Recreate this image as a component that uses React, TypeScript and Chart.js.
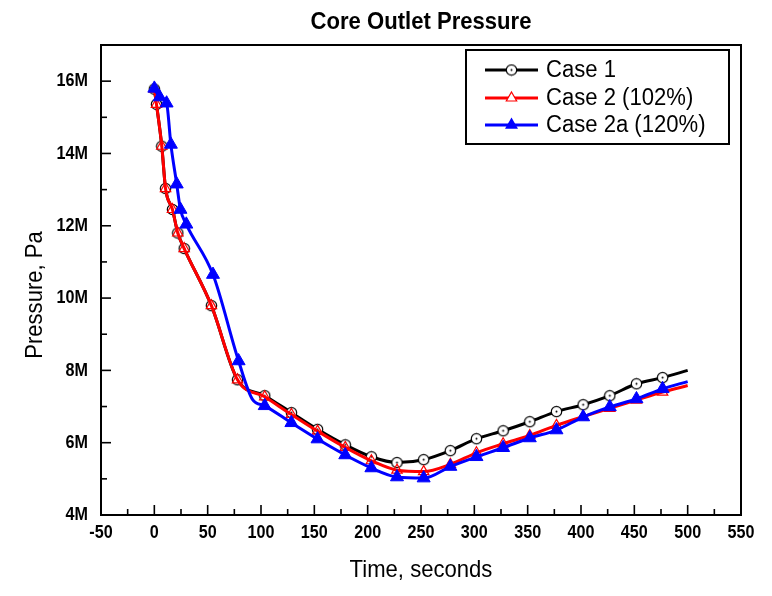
import { useEffect, useRef } from "react";
import { Chart, registerables } from "chart.js";

Chart.register(...registerables);

const chartTitle = "Core Outlet Pressure";
const xAxisTitle = "Time, seconds";
const yAxisTitle = "Pressure, Pa";

const xTicks = [-50, 0, 50, 100, 150, 200, 250, 300, 350, 400, 450, 500, 550];
const xMinorTicks = [-25, 25, 75, 125, 175, 225, 275, 325, 375, 425, 475, 525];
const yTicks = [4, 6, 8, 10, 12, 14, 16];
const yMinorTicks = [5, 7, 9, 11, 13, 15];

// Case 1 (black, open circle with dot)
const case1Label = "Case 1";
const case1Time = [0, 2, 7, 10.5, 17, 22, 28, 53.5, 78, 103.5, 128.5, 153, 179, 203.5, 227.5, 252.5, 277.5, 302, 327, 352, 377, 402, 427, 452, 476.5, 500];
const case1Pressure = [15.78, 15.36, 14.2, 13.03, 12.45, 11.8, 11.37, 9.79, 7.74, 7.3, 6.83, 6.37, 5.94, 5.61, 5.45, 5.53, 5.78, 6.11, 6.33, 6.58, 6.86, 7.05, 7.3, 7.63, 7.8, 8.0];
const case1Marker = [1, 1, 1, 1, 1, 1, 1, 1, 1, 1, 1, 1, 1, 1, 1, 1, 1, 1, 1, 1, 1, 1, 1, 1, 1, 0];

// Case 2 (red, open triangle)
const case2Label = "Case 2 (102%)";
const case2Time = [0, 2, 7, 10.5, 17, 22, 28, 53.5, 78, 103.5, 128.5, 153, 179, 203.5, 227.5, 252.5, 277.5, 302, 327, 352, 377, 402, 427, 452, 476.5, 500];
const case2Pressure = [15.78, 15.36, 14.2, 13.03, 12.45, 11.8, 11.37, 9.79, 7.74, 7.27, 6.78, 6.32, 5.87, 5.5, 5.24, 5.2, 5.4, 5.72, 5.97, 6.2, 6.48, 6.72, 6.95, 7.18, 7.4, 7.58];
const case2Marker = [1, 1, 1, 1, 1, 1, 1, 1, 1, 1, 1, 1, 1, 1, 1, 1, 1, 1, 1, 1, 1, 1, 1, 1, 1, 0];

// Case 2a (blue, filled triangle)
const case2aLabel = "Case 2a (120%)";
const case2aTime = [0, 5, 11.5, 15.5, 21, 24.5, 30, 55, 79, 92, 103.5, 128.5, 153, 179, 203.5, 227.5, 252.5, 277.5, 302, 327, 352, 377, 402, 427, 452, 476.5, 500];
const case2aPressure = [15.8, 15.56, 15.39, 14.25, 13.15, 12.45, 12.04, 10.65, 8.26, 7.2, 7.02, 6.55, 6.1, 5.66, 5.3, 5.05, 5.02, 5.34, 5.61, 5.86, 6.13, 6.35, 6.71, 6.99, 7.21, 7.49, 7.69];
const case2aMarker = [1, 1, 1, 1, 1, 1, 1, 1, 1, 0, 1, 1, 1, 1, 1, 1, 1, 1, 1, 1, 1, 1, 1, 1, 1, 1, 0];

const FONT = "'Liberation Sans', Arial, sans-serif";

function makeCircleDot(): HTMLCanvasElement {
  const c = document.createElement("canvas");
  c.width = 13;
  c.height = 13;
  const g = c.getContext("2d")!;
  g.beginPath();
  g.arc(6.5, 6.5, 5.2, 0, Math.PI * 2);
  g.fillStyle = "#fff";
  g.fill();
  g.lineWidth = 1.2;
  g.strokeStyle = "#000";
  g.stroke();
  g.beginPath();
  g.arc(6.5, 6.5, 1, 0, Math.PI * 2);
  g.fillStyle = "#000";
  g.fill();
  return c;
}

function condensedText(ctx: CanvasRenderingContext2D, text: string, x: number, y: number, sx: number, align: CanvasTextAlign) {
  ctx.save();
  ctx.translate(x, y);
  ctx.scale(sx, 1);
  ctx.textAlign = align;
  ctx.fillText(text, 0, 0);
  ctx.restore();
}

export default function App() {
  const ref = useRef<HTMLCanvasElement>(null);

  useEffect(() => {
    if (!ref.current) return;
    const circleDot = makeCircleDot();

    const series = [
      { label: case1Label, t: case1Time, p: case1Pressure, m: case1Marker, color: "#000000", style: circleDot as any, r: 5.5, bg: "#ffffff", bw: 1.2, order: 3 },
      { label: case2Label, t: case2Time, p: case2Pressure, m: case2Marker, color: "#ff0000", style: "triangle" as any, r: 6, bg: "rgba(255,255,255,0)", bw: 1.2, order: 2 },
      { label: case2aLabel, t: case2aTime, p: case2aPressure, m: case2aMarker, color: "#0000ff", style: "triangle" as any, r: 7.5, bg: "#0000ff", bw: 1, order: 1 },
    ];

    const decor = {
      id: "decor",
      beforeDatasetsDraw(chart: any) {
        const { ctx, chartArea: a, scales } = chart;
        const xs = scales.x;
        const ys = scales.y;
        ctx.save();
        ctx.strokeStyle = "#000";
        ctx.lineWidth = 1.6;
        const tick = (x1: number, y1: number, x2: number, y2: number) => {
          ctx.beginPath();
          ctx.moveTo(x1, y1);
          ctx.lineTo(x2, y2);
          ctx.stroke();
        };
        xTicks.forEach((v) => { const px = xs.getPixelForValue(v); tick(px, a.bottom, px, a.bottom - 10); });
        xMinorTicks.forEach((v) => { const px = xs.getPixelForValue(v); tick(px, a.bottom, px, a.bottom - 6); });
        yTicks.forEach((v) => { const py = ys.getPixelForValue(v); tick(a.left, py, a.left + 10, py); });
        yMinorTicks.forEach((v) => { const py = ys.getPixelForValue(v); tick(a.left, py, a.left + 6, py); });
        ctx.lineWidth = 2;
        ctx.strokeRect(a.left, a.top, a.right - a.left, a.bottom - a.top);

        // tick labels (condensed bold, as in the reference)
        ctx.fillStyle = "#000";
        ctx.font = `bold 19px ${FONT}`;
        ctx.textBaseline = "middle";
        xTicks.forEach((v) => condensedText(ctx, `${v}`, xs.getPixelForValue(v), a.bottom + 18, 0.85, "center"));
        yTicks.forEach((v) => condensedText(ctx, `${v}M`, a.left - 13, ys.getPixelForValue(v), 0.85, "right"));
        ctx.restore();
      },
      afterDraw(chart: any) {
        const { ctx, chartArea: a } = chart;
        ctx.save();
        ctx.fillStyle = "#000";
        ctx.textBaseline = "middle";
        // chart title
        ctx.font = `bold 24px ${FONT}`;
        condensedText(ctx, chartTitle, (a.left + a.right) / 2, 22, 0.92, "center");
        // axis titles
        ctx.font = `24px ${FONT}`;
        condensedText(ctx, xAxisTitle, (a.left + a.right) / 2, 570, 0.92, "center");
        ctx.save();
        ctx.translate(35, 295);
        ctx.rotate(-Math.PI / 2);
        condensedText(ctx, yAxisTitle, 0, 0, 0.92, "center");
        ctx.restore();

        // legend
        const bx = 466, by = 50, bw = 263, bh = 94;
        ctx.fillStyle = "#fff";
        ctx.fillRect(bx, by, bw, bh);
        ctx.strokeStyle = "#000";
        ctx.lineWidth = 2;
        ctx.strokeRect(bx, by, bw, bh);
        const rows = [70, 98, 125];
        series.forEach((s, i) => {
          const y = rows[i];
          ctx.strokeStyle = s.color;
          ctx.lineWidth = 3;
          ctx.beginPath();
          ctx.moveTo(485, y);
          ctx.lineTo(538, y);
          ctx.stroke();
          if (s.style === circleDot) {
            ctx.drawImage(circleDot, 511.5 - 6.5, y - 6.5);
          } else {
            const r = i === 1 ? 6 : 7.5;
            const h = r * 1.5;
            const w = r * Math.sqrt(3) / 2;
            ctx.beginPath();
            ctx.moveTo(511.5, y - r);
            ctx.lineTo(511.5 + w, y - r + h);
            ctx.lineTo(511.5 - w, y - r + h);
            ctx.closePath();
            if (i === 1) {
              ctx.fillStyle = "#fff";
              ctx.fill();
              ctx.lineWidth = 1.2;
              ctx.strokeStyle = s.color;
              ctx.stroke();
            } else {
              ctx.fillStyle = s.color;
              ctx.fill();
            }
          }
          ctx.fillStyle = "#000";
          ctx.font = `23px ${FONT}`;
          condensedText(ctx, s.label, 546, y + 1, 0.96, "left");
        });
        ctx.restore();
      },
    };

    const chart = new Chart(ref.current, {
      type: "line",
      data: {
        datasets: series.map((s) => ({
          label: s.label,
          data: s.t.map((t, i) => ({ x: t, y: s.p[i] })),
          borderColor: s.color,
          borderWidth: 3,
          backgroundColor: s.bg,
          pointStyle: s.style,
          pointBackgroundColor: s.bg,
          pointBorderColor: s.color,
          pointBorderWidth: s.bw,
          pointRadius: (ctx: any) => (s.m[ctx.dataIndex] ? s.r : 0),
          pointHoverRadius: 0,
          cubicInterpolationMode: "monotone" as const,
          fill: false,
          order: s.order,
        })),
      },
      options: {
        animation: false,
        responsive: false,
        devicePixelRatio: 1,
        layout: { padding: { top: 45, right: 31, left: 0, bottom: 0 } },
        plugins: {
          legend: { display: false },
          tooltip: { enabled: false },
          title: { display: false },
        },
        events: [],
        scales: {
          x: {
            type: "linear",
            min: -50,
            max: 550,
            afterBuildTicks: (s: any) => { s.ticks = xTicks.map((v) => ({ value: v })); },
            afterFit: (s: any) => { s.height = 81; },
            grid: { display: false, drawTicks: false },
            border: { display: false },
            ticks: { display: false },
          },
          y: {
            type: "linear",
            min: 4,
            max: 17,
            afterBuildTicks: (s: any) => { s.ticks = yTicks.map((v) => ({ value: v })); },
            afterFit: (s: any) => { s.width = 101; },
            grid: { display: false, drawTicks: false },
            border: { display: false },
            ticks: { display: false },
          },
        },
      },
      plugins: [decor],
    });
    return () => chart.destroy();
  }, []);

  return (
    <div style={{ position: "absolute", left: 0, top: 0, width: 772, height: 596, background: "#fff" }}>
      <canvas ref={ref} width={772} height={596} />
    </div>
  );
}
